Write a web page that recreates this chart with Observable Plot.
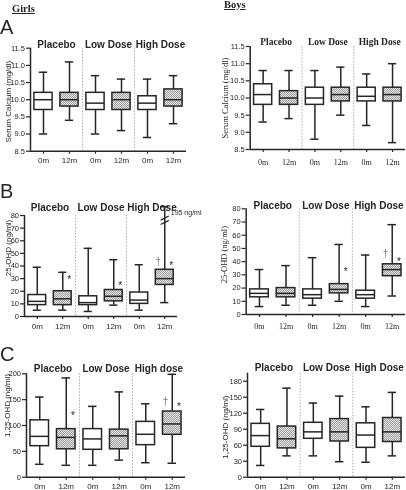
<!DOCTYPE html>
<html><head><meta charset="utf-8">
<script src="https://cdn.jsdelivr.net/npm/d3@7"></script>
<script src="https://cdn.jsdelivr.net/npm/@observablehq/plot@0.6"></script>
<style>
body{margin:0;background:#fff;}
#root{position:relative;width:406px;height:490px;overflow:hidden;font-family:'Liberation Sans',Arial,sans-serif;color:#262626;background:#fff;filter:grayscale(100%);}
.abs{position:absolute;white-space:nowrap;line-height:1;}
.letter{font-size:20px;}
.sex{font-family:'Liberation Serif','Times New Roman',serif;font-weight:bold;font-size:10.5px;text-decoration:underline;}
</style></head><body>
<svg width="0" height="0" style="position:absolute"><defs>
<pattern id="hatch" width="2" height="2" patternUnits="userSpaceOnUse">
<rect width="2" height="2" fill="#e4e4e4"/><rect width="1" height="1" fill="#a0a0a0"/><rect x="1" y="1" width="1" height="1" fill="#a0a0a0"/>
</pattern></defs></svg>
<div id="root">
<div class="abs sex" style="left:12px;top:4px;">Girls</div>
<div class="abs sex" style="left:224px;top:0px;">Boys</div>
<div class="abs letter" style="left:0px;top:17px;">A</div>
<div class="abs letter" style="left:0px;top:181px;">B</div>
<div class="abs letter" style="left:0px;top:344px;">C</div>
</div>
<script>
// ---- shared labels ----
const groups = ["Placebo", "Low Dose", "High Dose"];
const groupsC = ["Placebo", "Low Dose", "High dose"];
const visits = ["0m", "12m"];

// ---- A: serum calcium (mg/dl) ----
const girlsCaMin = [9.0, 9.4, 9.0, 9.1, 8.9, 9.3];
const girlsCaQ1  = [9.7, 9.8, 9.7, 9.7, 9.7, 9.8];
const girlsCaMed = [10.0, 10.0, 9.9, 10.0, 9.9, 10.0];
const girlsCaQ3  = [10.2, 10.2, 10.2, 10.2, 10.1, 10.3];
const girlsCaMax = [10.8, 11.1, 10.7, 10.6, 10.6, 10.7];

const boysCaMin = [9.3, 9.4, 8.8, 9.5, 9.2, 8.7];
const boysCaQ1  = [9.8, 9.8, 9.8, 9.9, 9.9, 9.9];
const boysCaMed = [10.1, 10.0, 10.0, 10.1, 10.05, 10.1];
const boysCaQ3  = [10.4, 10.2, 10.3, 10.3, 10.3, 10.3];
const boysCaMax = [10.8, 10.8, 10.8, 10.9, 10.7, 11.0];
const caTicks = [8.5, 9.0, 9.5, 10.0, 10.5, 11.0, 11.5];

// ---- B: 25-OHD (ng/ml) ----
const girlsDMin = [5, 5, 4, 9, 5, 11];
const girlsDQ1  = [9, 9, 9, 12, 10, 25];
const girlsDMed = [12, 14, 11, 16, 13, 30];
const girlsDQ3  = [17, 20, 16, 21, 19, 37];
const girlsDMax = [39, 35, 54, 45, 41, 87];   // last whisker drawn through the axis break
const girlsDBreak = [74.5, 78];
const girlsDBreakLabel = "195 ng/ml";
const girlsDAnnIdx = [1, 3, 5, 5];
const girlsDAnnY   = [29, 24, 43, 40];
const girlsDAnnSym = ["*", "*", "†", "*"];

const boysDMin = [6, 7, 7, 10, 6, 14];
const boysDQ1  = [13, 13, 12, 16, 12, 29];
const boysDMed = [16, 16, 15, 19, 15, 34];
const boysDQ3  = [19, 20, 19, 23, 18, 38];
const boysDMax = [34, 37, 43, 53, 45, 68];
const boysDAnnIdx = [3, 5, 5];
const boysDAnnY   = [32, 46, 40];
const boysDAnnSym = ["*", "†", "*"];
const dTicks = [0, 10, 20, 30, 40, 50, 60, 70, 80];

// ---- C: 1,25-OHD (ng/ml) ----
const girlsCMin = [25, 23, 23, 33, 28, 27];
const girlsCQ1  = [60, 54, 53, 54, 62, 82];
const girlsCMed = [79, 77, 74, 80, 83, 103];
const girlsCQ3  = [110, 93, 93, 92, 107, 127];
const girlsCMax = [155, 192, 137, 165, 142, 199];
const girlsCAnnIdx = [1, 5, 5];
const girlsCAnnY   = [118, 145, 136];
const girlsCAnnSym = ["*", "†", "*"];
const girlsCTicks = [0, 50, 100, 150, 200];

const boysCMin = [22, 40, 40, 29, 28, 40];
const boysCQ1  = [57, 54, 72, 67, 55, 66];
const boysCMed = [78, 72, 85, 85, 79, 85];
const boysCQ3  = [100, 95, 102, 109, 101, 111];
const boysCMax = [127, 167, 139, 152, 132, 159];
const boysCTicks = [0, 30, 60, 90, 120, 150, 180];

const sans = "'Liberation Sans', Arial, sans-serif";
const serif = "'Liberation Serif', 'Times New Roman', serif";
const ink = "#262626";

function drawPanel(p) {
  const rows = d3.range(6).map(i => ({i, min: p.min[i], q1: p.q1[i], med: p.med[i], q3: p.q3[i], max: p.max[i]}));
  const hw = 0.35, cw = 0.16, sw = 1.5;
  const ann = (p.annIdx || []).map((i, k) => ({i, y: p.annY[k], s: p.annSym[k]}));
  const seps = p.groups.slice(1).map((g, k) => 2 * (k + 1) - 0.5);
  const marks = [
    Plot.ruleX(seps, {stroke: "#9b9b9b", strokeWidth: 0.8, strokeDasharray: "1.5,1.5"}),
    Plot.ruleX(rows, {x: "i", y1: "min", y2: "q1", stroke: ink, strokeWidth: sw}),
    Plot.ruleX(rows, {x: "i", y1: "q3", y2: "max", stroke: ink, strokeWidth: sw}),
    Plot.ruleY(rows, {y: "min", x1: d => d.i - cw, x2: d => d.i + cw, stroke: ink, strokeWidth: sw}),
    Plot.ruleY(rows, {y: "max", x1: d => d.i - cw, x2: d => d.i + cw, stroke: ink, strokeWidth: sw}),
    Plot.rect(rows.filter(d => d.i % 2 === 0), {x1: d => d.i - hw, x2: d => d.i + hw, y1: "q1", y2: "q3", fill: "white", stroke: ink, strokeWidth: sw}),
    Plot.rect(rows.filter(d => d.i % 2 === 1), {x1: d => d.i - hw, x2: d => d.i + hw, y1: "q1", y2: "q3", fill: "url(#hatch)", stroke: ink, strokeWidth: sw}),
    Plot.ruleY(rows, {y: "med", x1: d => d.i - hw, x2: d => d.i + hw, stroke: ink, strokeWidth: sw}),
    Plot.ruleX([-0.5], {stroke: ink, strokeWidth: sw}),
    Plot.ruleY([p.yDomain[0]], {stroke: ink, strokeWidth: sw}),
    Plot.axisY({ticks: p.ticks, tickSize: 4, tickPadding: 1.5, tickFormat: p.tickFormat, label: null, fontSize: 7.5, fontFamily: sans, strokeWidth: 1.2}),
    Plot.axisX({ticks: d3.range(6), tickSize: 3, tickPadding: p.xPad, tickFormat: i => visits[i % 2], label: null, fontSize: 8, fontFamily: p.xFont, strokeWidth: 1.2}),
    Plot.text(p.groups, {x: (d, k) => 2 * k + 0.5, frameAnchor: "top", dy: p.groupDy, fontWeight: "bold", fontSize: p.groupSize, fontFamily: p.groupFont, fill: ink}),
    Plot.text([p.ylabel], {frameAnchor: "left", textAnchor: "middle", rotate: -90, dx: p.ylabelDx, dy: p.ylabelDy, fontSize: p.ylabelSize, fontFamily: p.ylabelFont, fill: ink}),
    Plot.text(ann.filter(d => d.s === "*"), {x: d => d.i + 0.25, y: "y", text: "s", fontSize: 10, fontFamily: sans, fill: ink}),
    Plot.text(ann.filter(d => d.s === "†"), {x: d => d.i - 0.25, y: "y", text: "s", fontSize: 10, fontFamily: sans, fill: "#777"})
  ];
  if (p.breaks) {
    marks.push(Plot.link(p.breaks, {x1: 5 - 0.16, x2: 5 + 0.16, y1: d => d - 1.6, y2: d => d + 1.6, stroke: ink, strokeWidth: 1.3}));
    marks.push(Plot.text([p.breakLabel], {x: 5, y: p.breaks[1] + 4, dx: 6, textAnchor: "start", fontSize: 7, fontFamily: sans, fill: ink}));
  }
  const chart = Plot.plot({
    width: p.w, height: p.h,
    marginLeft: p.mL, marginRight: p.mR, marginTop: p.mT, marginBottom: p.mB,
    x: {domain: [-0.5, 5.5]},
    y: {domain: p.yDomain},
    style: {background: "transparent", color: ink, fontFamily: sans, overflow: "visible"},
    marks
  });
  chart.style.position = "absolute";
  chart.style.left = p.left + "px";
  chart.style.top = p.top + "px";
  chart.style.overflow = "visible";
  document.getElementById("root").appendChild(chart);
}

const f1 = d3.format(".1f");
const f0 = d3.format("d");

drawPanel({left: 0, top: 30, w: 200, h: 145, mL: 30, mR: 14, mT: 17.7, mB: 24.3,
  min: girlsCaMin, q1: girlsCaQ1, med: girlsCaMed, q3: girlsCaQ3, max: girlsCaMax,
  yDomain: [8.5, 11.5], ticks: caTicks, tickFormat: f1, groups, groupDy: -7, groupSize: 10, groupFont: sans,
  xPad: 3, xFont: sans, ylabel: "Serum Calcium (mg/dl)", ylabelDx: -22, ylabelDy: 2, ylabelSize: 8, ylabelFont: sans});

drawPanel({left: 216, top: 30, w: 190, h: 145, mL: 33.7, mR: 1, mT: 16, mB: 26,
  min: boysCaMin, q1: boysCaQ1, med: boysCaMed, q3: boysCaQ3, max: boysCaMax,
  yDomain: [8.5, 11.5], ticks: caTicks, tickFormat: f1, groups, groupDy: -8, groupSize: 9.5, groupFont: serif,
  xPad: 7, xFont: serif, ylabel: "Serum Calcium (mg/dl)", ylabelDx: -25, ylabelDy: 0, ylabelSize: 8.5, ylabelFont: serif});

drawPanel({left: 0, top: 190, w: 200, h: 145, mL: 24, mR: 23, mT: 25, mB: 19,
  min: girlsDMin, q1: girlsDQ1, med: girlsDMed, q3: girlsDQ3, max: girlsDMax,
  yDomain: [0, 80], ticks: dTicks, tickFormat: f0, groups, groupDy: -12, groupSize: 10, groupFont: sans,
  xPad: 4, xFont: sans, ylabel: "25-OHD (ng/ml)", ylabelDx: -16.5, ylabelDy: -18, ylabelSize: 8, ylabelFont: sans,
  annIdx: girlsDAnnIdx, annY: girlsDAnnY, annSym: girlsDAnnSym, breaks: girlsDBreak, breakLabel: girlsDBreakLabel});

drawPanel({left: 216, top: 185, w: 190, h: 150, mL: 29.7, mR: 1, mT: 23.3, mB: 21,
  min: boysDMin, q1: boysDQ1, med: boysDMed, q3: boysDQ3, max: boysDMax,
  yDomain: [0, 80], ticks: dTicks, tickFormat: f0, groups, groupDy: -7, groupSize: 10, groupFont: sans,
  xPad: 6, xFont: serif, ylabel: "25-OHD (ng/ml)", ylabelDx: -21.7, ylabelDy: -7, ylabelSize: 8.5, ylabelFont: serif,
  annIdx: boysDAnnIdx, annY: boysDAnnY, annSym: boysDAnnSym});

drawPanel({left: 0, top: 345, w: 200, h: 145, mL: 26, mR: 15, mT: 28.3, mB: 13.3,
  min: girlsCMin, q1: girlsCQ1, med: girlsCMed, q3: girlsCQ3, max: girlsCMax,
  yDomain: [0, 200], ticks: girlsCTicks, tickFormat: f0, groups: groupsC, groupDy: -9, groupSize: 10, groupFont: sans,
  xPad: 3, xFont: sans, ylabel: "1,25-OHD (ng/ml)", ylabelDx: -19, ylabelDy: -20, ylabelSize: 8, ylabelFont: sans,
  annIdx: girlsCAnnIdx, annY: girlsCAnnY, annSym: girlsCAnnSym});

drawPanel({left: 216, top: 345, w: 190, h: 145, mL: 31, mR: 1, mT: 27.7, mB: 13.3,
  min: boysCMin, q1: boysCQ1, med: boysCMed, q3: boysCQ3, max: boysCMax,
  yDomain: [0, 195], ticks: boysCTicks, tickFormat: f0, groups, groupDy: -9, groupSize: 10, groupFont: sans,
  xPad: 3, xFont: sans, ylabel: "1,25-OHD (ng/ml)", ylabelDx: -22, ylabelDy: 2, ylabelSize: 8, ylabelFont: sans});
</script>
</body></html>
